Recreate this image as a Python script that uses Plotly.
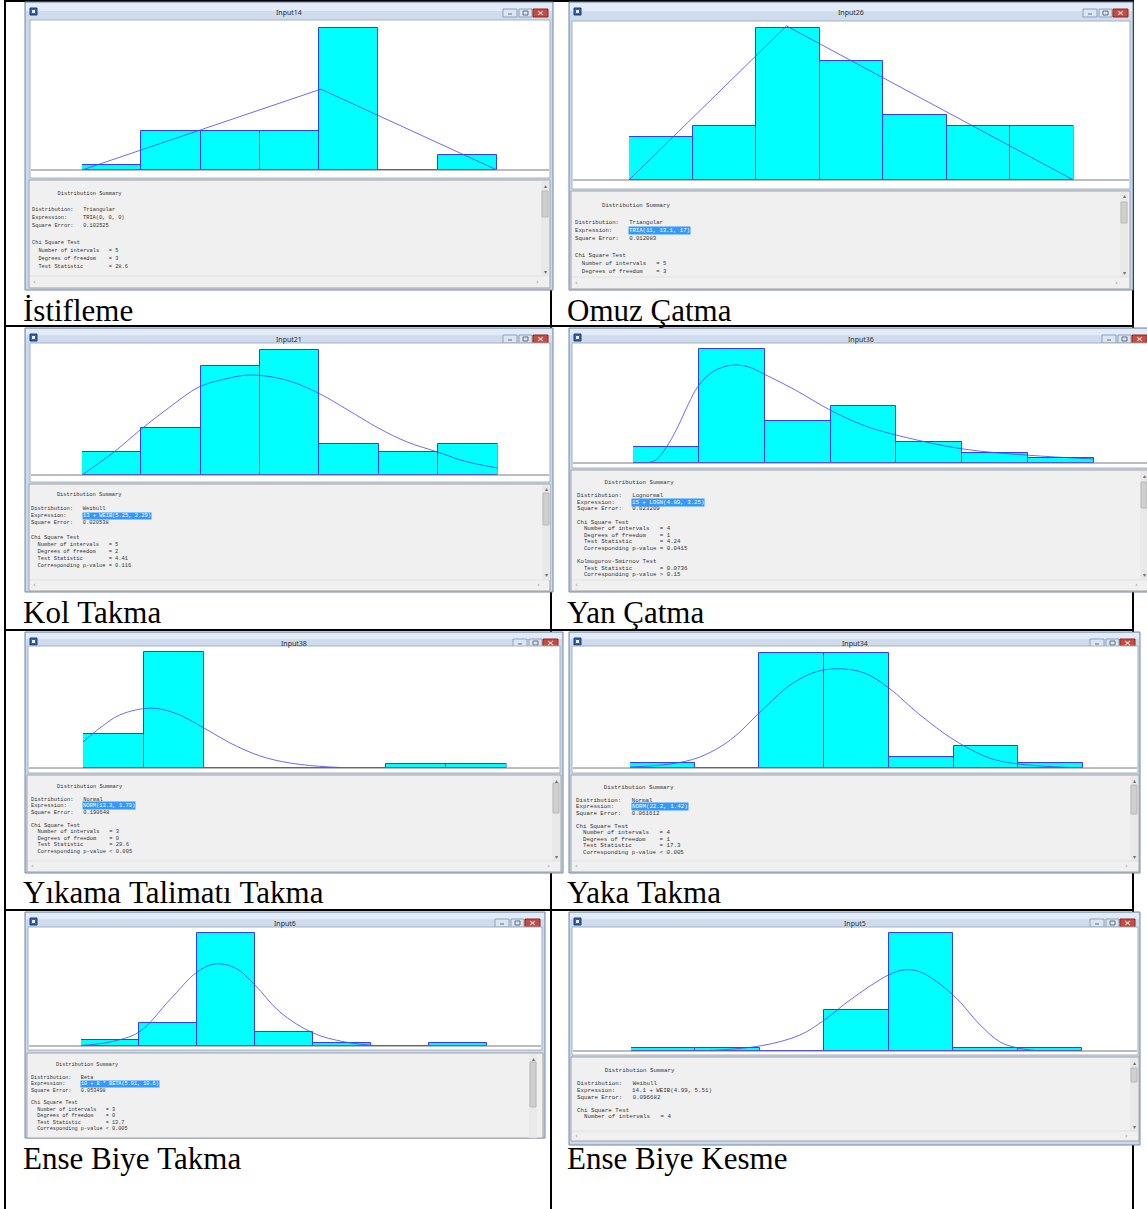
import plotly.graph_objects as go

W, H = 1147, 1209

# ---------------------------------------------------------------------------
# Histogram bin counts and fitted-density samples for each operation.
# Fitted-curve x values are in bin-index units (bin k spans k..k+1),
# y values are in the same count units as the bars.
# ---------------------------------------------------------------------------
istifleme_counts = [1, 8, 8, 8, 29, 0, 3]
istifleme_fit_x = [0, 4.03, 7]
istifleme_fit_y = [0, 16.5, 0]

omuz_counts = [4, 5, 14, 11, 6, 5, 5]
omuz_fit_x = [0, 2.48, 7]
omuz_fit_y = [0, 14.2, 0]

kol_counts = [3, 6, 14, 16, 4, 3, 4]
kol_fit_x = [0, 0.54, 0.98, 1.48, 1.97, 2.41, 2.83, 3.44, 3.98, 4.48, 4.99, 5.48, 5.99, 6.44, 7.0]
kol_fit_y = [0, 2.95, 5.77, 8.72, 11.28, 12.3, 12.82, 12.18, 10.51, 8.33, 6.03, 4.23, 2.95, 1.79, 0.9]

yan_counts = [3, 22, 8, 11, 4, 2, 1]
yan_fit_x = [0.21, 0.35, 0.50, 0.67, 0.84, 0.99, 1.23, 1.50, 1.75, 1.99, 2.47, 2.99, 3.49, 3.99, 5.01, 6.0, 7.0]
yan_fit_y = [0, 0.6, 2.9, 6.7, 11.3, 14.8, 17.7, 18.8, 18.5, 17.1, 14.0, 10.2, 7.3, 5.4, 2.7, 1.5, 0.77]

yikama_counts = [9, 31, 0, 0, 0, 1, 1]
yikama_fit_x = [0, 0.28, 0.61, 1.11, 1.52, 2.0, 2.43, 2.93, 3.42, 4.08, 4.91]
yikama_fit_y = [6.95, 10.7, 14.2, 16.0, 14.7, 10.7, 6.7, 3.2, 1.34, 0.27, 0]

yaka_counts = [1, 0, 21, 21, 2, 4, 1]
yaka_fit_x = [0, 0.62, 1.08, 1.55, 2.01, 2.47, 2.86, 3.25, 3.63, 4.0, 4.48, 5.01, 5.56, 6.0, 7.0]
yaka_fit_y = [0.18, 0.73, 2.0, 5.1, 10.2, 15.1, 17.5, 18.1, 17.3, 14.6, 9.7, 5.1, 1.8, 0.73, 0]

ense_takma_counts = [2, 8, 39, 5, 1, 0, 1]
ense_takma_fit_x = [0, 0.5, 1.0, 1.53, 2.0, 2.31, 2.66, 3.0, 3.43, 4.0, 4.55, 5.16]
ense_takma_fit_y = [0.17, 1.4, 4.8, 15.9, 25.5, 28.3, 26.9, 21.0, 11.7, 4.5, 1.4, 0]

ense_kesme_counts = [1, 1, 0, 14, 40, 1, 1]
ense_kesme_fit_x = [1.07, 2.0, 2.62, 3.0, 3.4, 4.0, 4.25, 4.49, 5.0, 5.42, 5.73, 6.01, 6.35]
ense_kesme_fit_y = [0, 1.7, 5.4, 10.5, 17.3, 25.8, 27.5, 26.8, 19.0, 8.8, 3.05, 1.0, 0]

# Cell captions and window titles
cell_labels = ["İstifleme", "Omuz Çatma", "Kol Takma", "Yan Çatma",
               "Yıkama Talimatı Takma", "Yaka Takma", "Ense Biye Takma", "Ense Biye Kesme"]
window_titles = ["Input14", "Input26", "Input21", "Input36", "Input38", "Input34", "Input6", "Input5"]

# Distribution summary texts
istifleme_summary = dict(dist="Triangular", expr="TRIA(0, 0, 0)", sqerr="0.102525", selected=False,
                         chi=[("Number of intervals", "= 5"), ("Degrees of freedom", "= 3"),
                              ("Test Statistic", "= 28.6")], ks=None)
omuz_summary = dict(dist="Triangular", expr="TRIA(11, 13.1, 17)", sqerr="0.012083", selected=True,
                    chi=[("Number of intervals", "= 5"), ("Degrees of freedom", "= 3")], ks=None)
kol_summary = dict(dist="Weibull", expr="13 + WEIB(5.25, 2.29)", sqerr="0.020538", selected=True,
                   chi=[("Number of intervals", "= 5"), ("Degrees of freedom", "= 2"),
                        ("Test Statistic", "= 4.41"), ("Corresponding p-value", "= 0.116")], ks=None)
yan_summary = dict(dist="Lognormal", expr="15 + LOGN(4.89, 3.25)", sqerr="0.023209", selected=True,
                   chi=[("Number of intervals", "= 4"), ("Degrees of freedom", "= 1"),
                        ("Test Statistic", "= 4.24"), ("Corresponding p-value", "= 0.0415")],
                   ks=[("Test Statistic", "= 0.0736"), ("Corresponding p-value", "> 0.15")])
yikama_summary = dict(dist="Normal", expr="NORM(13.3, 1.79)", sqerr="0.190648", selected=True,
                      chi=[("Number of intervals", "= 3"), ("Degrees of freedom", "= 0"),
                           ("Test Statistic", "= 29.6"), ("Corresponding p-value", "< 0.005")], ks=None)
yaka_summary = dict(dist="Normal", expr="NORM(22.2, 1.42)", sqerr="0.061612", selected=True,
                    chi=[("Number of intervals", "= 4"), ("Degrees of freedom", "= 1"),
                         ("Test Statistic", "= 17.3"), ("Corresponding p-value", "< 0.005")], ks=None)
ense_takma_summary = dict(dist="Beta", expr="10 + 8 * BETA(5.91, 10.6)", sqerr="0.053498", selected=True,
                          chi=[("Number of intervals", "= 3"), ("Degrees of freedom", "= 0"),
                               ("Test Statistic", "= 13.7"), ("Corresponding p-value", "< 0.005")], ks=None)
ense_kesme_summary = dict(dist="Weibull", expr="14.1 + WEIB(4.99, 5.51)", sqerr="0.096682", selected=False,
                          chi=[("Number of intervals", "= 4")], ks=None)

panels = [
    (istifleme_counts, istifleme_fit_x, istifleme_fit_y, "linear", istifleme_summary),
    (omuz_counts, omuz_fit_x, omuz_fit_y, "linear", omuz_summary),
    (kol_counts, kol_fit_x, kol_fit_y, "spline", kol_summary),
    (yan_counts, yan_fit_x, yan_fit_y, "spline", yan_summary),
    (yikama_counts, yikama_fit_x, yikama_fit_y, "spline", yikama_summary),
    (yaka_counts, yaka_fit_x, yaka_fit_y, "spline", yaka_summary),
    (ense_takma_counts, ense_takma_fit_x, ense_takma_fit_y, "spline", ense_takma_summary),
    (ense_kesme_counts, ense_kesme_fit_x, ense_kesme_fit_y, "spline", ense_kesme_summary),
]

# Window geometry in page pixels: frame, histogram area, baseline, bin span,
# pixels per count, summary panel, scrollbars and summary text metrics.
frames = [
    dict(win=(25, 2, 553, 290), plot=(30, 20, 550, 178), base=170, bins=(82, 497), ppc=4.9,
         text=(29, 180, 550, 288), vbar=(541, 549), thumb=(191, 217), hbar=(276, 287),
         txt=(31, 194, 8.1, 5.33)),
    dict(win=(569, 2, 1133, 290), plot=(572, 21, 1130, 189), base=180, bins=(629, 1073.5), ppc=10.85,
         text=(571, 191, 1130, 289), vbar=(1120, 1128), thumb=(202, 223), hbar=(277, 288),
         txt=(574, 205.5, 8.3, 5.65)),
    dict(win=(25, 328, 553, 592), plot=(30, 343, 550, 482), base=475, bins=(82, 497.5), ppc=7.8,
         text=(29, 484, 550, 591), vbar=(542, 550), thumb=(493, 525), hbar=(580, 590),
         txt=(30, 495, 7.1, 5.4)),
    dict(win=(569, 328, 1152, 592), plot=(572, 343, 1152, 468), base=463, bins=(633, 1094), ppc=5.2,
         text=(571, 470, 1152, 591), vbar=(1140, 1148), thumb=(482, 508), hbar=(580, 590),
         txt=(575.5, 482.5, 6.6, 5.75)),
    dict(win=(25, 632, 563, 873), plot=(28, 646, 560, 773), base=768, bins=(83, 506.5), ppc=3.74,
         text=(27, 775, 561, 872), vbar=(552, 560), thumb=(783, 813), hbar=(861, 871),
         txt=(30, 786, 6.5, 5.45)),
    dict(win=(569, 632, 1140, 873), plot=(572, 646, 1138, 773), base=768, bins=(630, 1083), ppc=5.48,
         text=(571, 775, 1139, 872), vbar=(1130, 1138), thumb=(785, 814), hbar=(861, 871),
         txt=(575, 787, 6.5, 5.8)),
    dict(win=(25, 912, 545, 1138), plot=(28, 927, 542, 1050), base=1046, bins=(81, 487), ppc=2.9,
         text=(27, 1053, 543, 1138), vbar=(529, 537), thumb=(1062, 1107), hbar=None,
         txt=(30, 1065, 6.4, 5.2)),
    dict(win=(569, 912, 1140, 1145), plot=(572, 927, 1138, 1055), base=1051, bins=(631, 1082), ppc=2.95,
         text=(571, 1057, 1139, 1141), vbar=(1130, 1138), thumb=(1068, 1082), hbar=(1131, 1141),
         txt=(575.5, 1070.7, 6.6, 5.8)),
]

cell_label_pos = [(22, 310), (566, 310), (22, 612), (566, 612),
                  (22, 892), (566, 892), (22, 1158), (566, 1158)]


def fx(x):
    return x / W


def fy(y):
    return 1 - y / H


shapes = []
annotations = []


def rect(x0, y0, x1, y1, fill, line=None, lw=1, layer="below"):
    shapes.append(dict(type="rect", xref="paper", yref="paper",
                       x0=fx(x0), x1=fx(x1), y0=fy(y1), y1=fy(y0),
                       fillcolor=fill, layer=layer,
                       line=dict(color=line if line else "rgba(0,0,0,0)", width=lw if line else 0)))


def seg(x0, y0, x1, y1, color, lw=1, layer="below"):
    shapes.append(dict(type="line", xref="paper", yref="paper",
                       x0=fx(x0), x1=fx(x1), y0=fy(y0), y1=fy(y1),
                       line=dict(color=color, width=lw), layer=layer))


def text(s, x, y, size, color="#333333", family="Liberation Mono", xanchor="left", bg=None):
    annotations.append(dict(text=s.replace(" ", "\u00a0"), x=fx(x), y=fy(y), xref="paper", yref="paper",
                            xanchor=xanchor, yanchor="middle", showarrow=False, borderpad=0,
                            bgcolor=bg if bg else "rgba(0,0,0,0)",
                            font=dict(family=family, size=size, color=color)))


# Table grid
for gx in (5, 551, 1133):
    seg(gx, 0, gx, H, "black", 2)
for gy in (1, 326, 630, 910):
    seg(4, gy, 1134, gy, "black", 2)


def draw_window(fr, title):
    x0, y0, x1, y1 = fr["win"]
    px0, py0, px1, py1 = fr["plot"]
    tx0, ty0, tx1, ty1 = fr["text"]
    # frame and title bar
    rect(x0, y0, x1, y1, "#c9d9ed", "#7088a8", 1)
    mid = (y0 + py0) / 2
    rect(x0 + 1, y0 + 1, x1 - 1, mid, "#e2ebf7")
    rect(x0 + 1, mid, x1 - 1, py0 - 1, "#cfdcee")
    rect(x0 + 5, y0 + 6, x0 + 12, y0 + 13, "#2f64b0", "#1c3f78", 1)
    rect(x0 + 7, y0 + 8, x0 + 10, y0 + 11, "#e8f0fa")
    by0, by1 = y0 + 7, y0 + 15
    rect(x1 - 50, by0, x1 - 36, by1, "#dbe5f2", "#8ca0bd", 1)
    rect(x1 - 34, by0, x1 - 21, by1, "#dbe5f2", "#8ca0bd", 1)
    rect(x1 - 20, by0, x1 - 5, by1, "#c94a3f", "#8b2a22", 1)
    seg(x1 - 45, by1 - 3, x1 - 41, by1 - 3, "#5d6f88", 1)
    rect(x1 - 30, by0 + 2, x1 - 25, by1 - 2, "rgba(0,0,0,0)", "#5d6f88", 1)
    seg(x1 - 15, by0 + 2, x1 - 10, by1 - 2, "white", 1)
    seg(x1 - 15, by1 - 2, x1 - 10, by0 + 2, "white", 1)
    text(title, (x0 + x1) / 2, y0 + 11, 7, "#2b2b2b", "Noto Sans", "center")
    # histogram area
    rect(px0, py0, px1, py1, "white", "#a7b2bf", 1)
    seg(px0 + 1, fr["base"], px1 - 1, fr["base"], "#7a7a7a", 1, "above")
    # summary panel
    rect(tx0, ty0, tx1, ty1, "#f0f0f0", "#a3a3a3", 1)
    vx0, vx1 = fr["vbar"]
    hy0 = fr["hbar"][0] if fr["hbar"] else ty1
    rect(vx0, ty0 + 1, vx1, hy0, "#e9e9e9")
    t0, t1 = fr["thumb"]
    rect(vx0 + 1, t0, vx1 - 1, t1, "#cfcfcf", "#b8b8b8", 1)
    text("▴", (vx0 + vx1) / 2, ty0 + 5, 6, "#707070", "DejaVu Sans", "center")
    if fr["hbar"]:
        hb0, hb1 = fr["hbar"]
        text("▾", (vx0 + vx1) / 2, hb0 - 5, 6, "#707070", "DejaVu Sans", "center")
        seg(tx0 + 1, hb0, tx1 - 1, hb0, "#e2e2e2", 1)
        text("‹", tx0 + 3, (hb0 + hb1) / 2, 7, "#9a9a9a", "DejaVu Sans")
        text("›", vx0 - 6, (hb0 + hb1) / 2, 7, "#9a9a9a", "DejaVu Sans")


def summary_lines(s):
    lines = ["        Distribution Summary", "",
             f"{'Distribution:':16}{s['dist']}",
             f"{'Expression:':16}",
             f"{'Square Error:':16}{s['sqerr']}", "",
             "Chi Square Test"]
    lines += [f"  {k:22}{v}" for k, v in s["chi"]]
    if s["ks"]:
        lines += ["", "Kolmogorov-Smirnov Test"]
        lines += [f"  {k:22}{v}" for k, v in s["ks"]]
    return lines


fig = go.Figure()
axes_layout = {}
axis_common = dict(showgrid=False, zeroline=False, showticklabels=False,
                   showline=False, ticks="", fixedrange=True)

for i, (fr, pn, title, label, lpos) in enumerate(
        zip(frames, panels, window_titles, cell_labels, cell_label_pos), start=1):
    counts, fit_x, fit_y, fit_shape, summ = pn
    draw_window(fr, title)

    suffix = "" if i == 1 else str(i)
    fig.add_trace(go.Bar(x=[k + 0.5 for k in range(len(counts))], y=counts, width=1.0,
                         marker=dict(color="#00ffff", line=dict(color="#3a3aff", width=1)),
                         xaxis="x" + suffix, yaxis="y" + suffix,
                         showlegend=False, hoverinfo="skip"))
    fig.add_trace(go.Scatter(x=fit_x, y=fit_y, mode="lines",
                             line=dict(color="rgba(70,70,255,0.8)", width=1, shape=fit_shape),
                             xaxis="x" + suffix, yaxis="y" + suffix,
                             showlegend=False, hoverinfo="skip"))

    b0, b1 = fr["bins"]
    plot_top = fr["plot"][1]
    base = fr["base"]
    axes_layout["xaxis" + suffix] = dict(domain=[fx(b0), fx(b1)], range=[0, len(counts)],
                                         anchor="y" + suffix, **axis_common)
    axes_layout["yaxis" + suffix] = dict(domain=[fy(base), fy(plot_top)],
                                         range=[0, (base - plot_top) / fr["ppc"]],
                                         anchor="x" + suffix, **axis_common)

    # summary text
    left, top, dy, fs = fr["txt"]
    for n, line in enumerate(summary_lines(summ)):
        if line.strip():
            text(line, left, top + n * dy, fs)
    expr_y = top + 3 * dy
    expr_x = left + 16 * 0.6 * fs
    if summ["selected"]:
        text(summ["expr"], expr_x, expr_y, fs, "white", bg="#3399ff")
    else:
        text(summ["expr"], expr_x, expr_y, fs)

    # cell caption
    text(label, lpos[0], lpos[1], 31, "black", "Liberation Serif")

fig.update_layout(width=W, height=H, margin=dict(l=0, r=0, t=0, b=0),
                  paper_bgcolor="white", plot_bgcolor="rgba(0,0,0,0)",
                  shapes=shapes, annotations=annotations, bargap=0, **axes_layout)

fig.write_html("out.html")
